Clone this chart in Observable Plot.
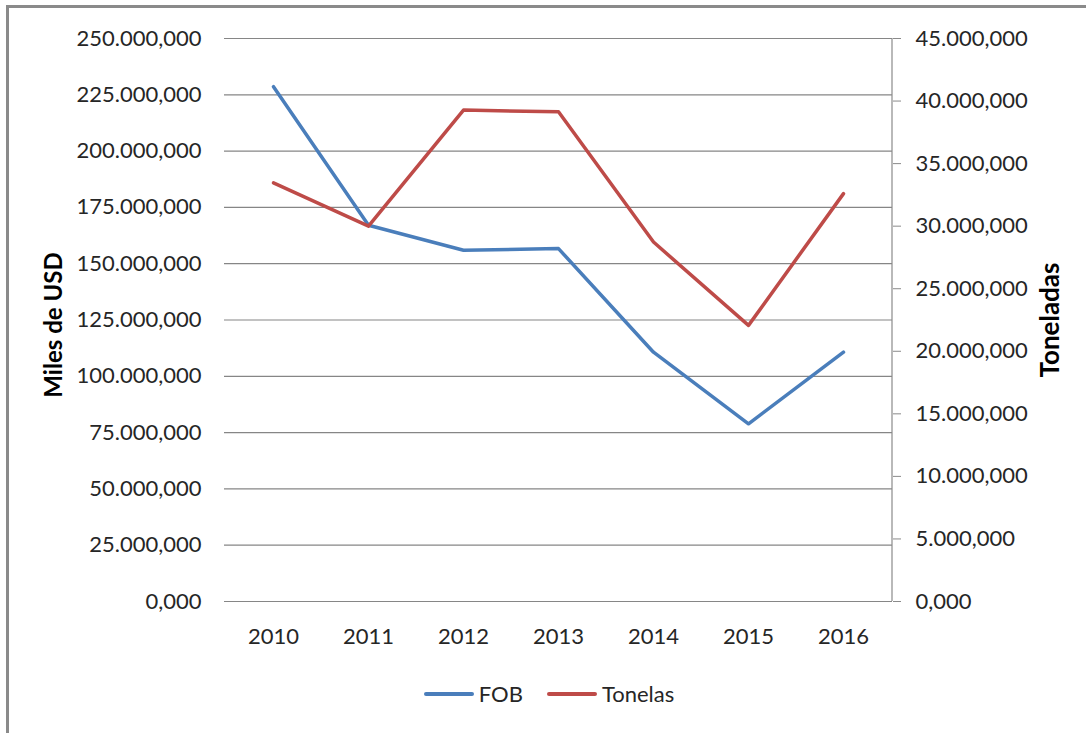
<!DOCTYPE html>
<html><head><meta charset="utf-8">
<script src="https://cdn.jsdelivr.net/npm/d3@7"></script>
<script src="https://cdn.jsdelivr.net/npm/@observablehq/plot@0.6"></script>
<style>
body{margin:0;background:#fff;font-family:Lato,"Open Sans",sans-serif;}
#wrap{position:relative;width:1086px;height:733px;overflow:hidden;background:#fff;}
#frame{position:absolute;left:6px;top:5px;width:1200px;height:900px;border:3px solid #8a8a8a;box-sizing:border-box;}
#chart{position:absolute;left:0;top:0;}
#legend{position:absolute;top:680px;left:6px;width:1086px;display:flex;justify-content:center;align-items:center;font-size:22px;color:#262626;}
.item{display:flex;align-items:center;margin:0 12px;}
.sw{display:inline-block;width:50px;height:4px;border-radius:2px;margin-right:5px;}
</style></head><body>
<div id="wrap"><div id="frame"></div><div id="chart"></div><div id="legend"></div></div>
<script>
const years = ["2010","2011","2012","2013","2014","2015","2016"];
const fob = [228.6e6, 167.1e6, 156.0e6, 156.7e6, 110.7e6, 78.9e6, 110.7e6];
const tonelas = [33.46e6, 30.0e6, 39.28e6, 39.14e6, 28.73e6, 22.07e6, 32.6e6];
const leftTicks = [0, 25e6, 50e6, 75e6, 100e6, 125e6, 150e6, 175e6, 200e6, 225e6, 250e6];
const rightTicks = [0, 5e6, 10e6, 15e6, 20e6, 25e6, 30e6, 35e6, 40e6, 45e6];
const seriesNames = ["FOB", "Tonelas"];
const colors = ["#4a7ebb", "#be4b48"];

const leftMax = 250e6, rightMax = 45e6;
const toLeft = v => v * leftMax / rightMax;
const fmt = v => d3.format(",")(Math.round(v / 1000)).replace(/,/g, ".") + ",000";

const fobData = years.map((y, i) => ({year: y, value: fob[i]}));
const tonData = years.map((y, i) => ({year: y, value: toLeft(tonelas[i])}));

const chart = Plot.plot({
  width: 1086,
  height: 733,
  marginLeft: 224,
  marginRight: 194,
  marginTop: 38,
  marginBottom: 132,
  style: {fontFamily: "Lato, 'Open Sans', sans-serif", background: "transparent", color: "#262626"},
  x: {type: "point", domain: years, padding: 0.5, label: null},
  y: {domain: [0, leftMax], label: null},
  marks: [
    Plot.gridY(leftTicks, {stroke: "#868686", strokeOpacity: 1, strokeWidth: 1.2}),
    Plot.axisY(leftTicks, {anchor: "left", tickSize: 0, tickPadding: 23, tickFormat: fmt, fontSize: 22, label: null, fill: "#262626"}),
    Plot.axisY(rightTicks.map(toLeft), {anchor: "right", tickSize: 8, tickPadding: 15, tickFormat: d => fmt(d * rightMax / leftMax), fontSize: 22, label: null, stroke: "#8a8a8a", fill: "#262626"}),
    Plot.axisX({anchor: "bottom", tickSize: 0, tickPadding: 27, fontSize: 22, label: null, fill: "#262626"}),
    Plot.lineY(fobData, {x: "year", y: "value", stroke: colors[0], strokeWidth: 3.5, strokeLinejoin: "round", strokeLinecap: "round"}),
    Plot.lineY(tonData, {x: "year", y: "value", stroke: colors[1], strokeWidth: 3.5, strokeLinejoin: "round", strokeLinecap: "round"}),
    Plot.text(["Miles de USD"], {frameAnchor: "left", textAnchor: "middle", dx: -170, dy: 5, rotate: -90, fontSize: 24, fontWeight: "bold", fill: "#000"}),
    Plot.text(["Toneladas"], {frameAnchor: "right", textAnchor: "middle", dx: 158, rotate: -90, fontSize: 26, fontWeight: "bold", fill: "#000"})
  ]
});
document.getElementById("chart").appendChild(chart);
const svg = d3.select(chart);
// right value axis line
svg.append("line").attr("x1", 892).attr("x2", 892).attr("y1", 38).attr("y2", 601).attr("stroke", "#8a8a8a").attr("stroke-width", 1.2);

const legend = document.getElementById("legend");
seriesNames.forEach((n, i) => {
  const it = document.createElement("div");
  it.className = "item";
  it.innerHTML = `<span class="sw" style="background:${colors[i]}"></span><span>${n}</span>`;
  legend.appendChild(it);
});
</script>
</body></html>
